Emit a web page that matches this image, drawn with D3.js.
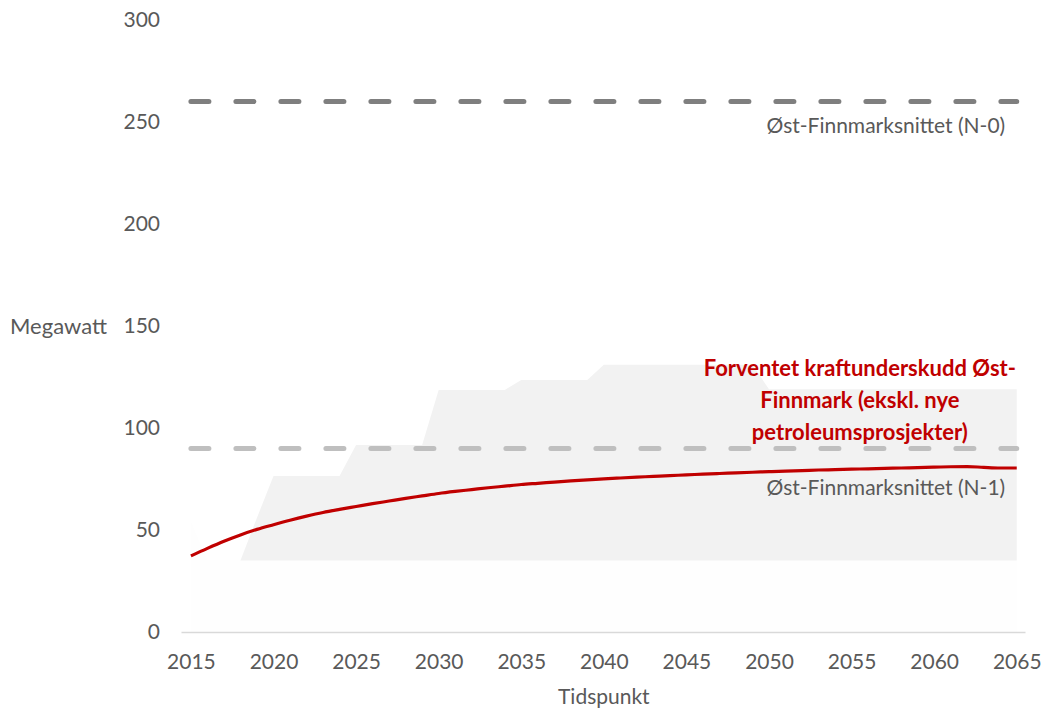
<!DOCTYPE html>
<html>
<head>
<meta charset="utf-8">
<script src="https://cdn.jsdelivr.net/npm/d3@7"></script>
<style>
  html, body { margin: 0; padding: 0; background: #ffffff; }
  svg { display: block; font-family: Lato, "Open Sans", sans-serif; }
</style>
</head>
<body>
<svg id="chart" width="1047" height="714"></svg>
<script>
// ---- data ----
const years = d3.range(2015, 2066);
// expected power deficit (MW), one value per year 2015..2065
const deficit = [37.3, 41.0, 44.5, 47.6, 50.3, 52.6, 54.8, 56.8, 58.6, 60.1,
                 61.5, 62.9, 64.2, 65.5, 66.7, 67.9, 68.9, 69.8, 70.7, 71.5,
                 72.3, 72.9, 73.5, 74.1, 74.6, 75.1, 75.5, 75.9, 76.3, 76.7,
                 77.0, 77.4, 77.7, 78.0, 78.3, 78.6, 78.9, 79.1, 79.4, 79.6,
                 79.8, 80.0, 80.2, 80.4, 80.6, 80.8, 81.0, 81.1, 80.7, 80.4, 80.4];
// uncertainty band: lower bound (invisible base) and upper bound
const bandLow = [54, 35, 35, 35, 35, 35, 35, 35, 35, 35,
                 35, 35, 35, 35, 35, 35, 35, 35, 35, 35,
                 35, 35, 35, 35, 35, 35, 35, 35, 35, 35,
                 35, 35, 35, 35, 35, 35, 35, 35, 35, 35,
                 35, 35, 35, 35, 35, 35, 35, 35, 35, 35, 35];
const bandHigh = [54, 35, 35, 35, 56, 76.5, 76.5, 76.5, 76.5, 76.5,
                  91.7, 91.7, 91.7, 91.7, 91.7, 118.6, 118.6, 118.6, 118.6, 118.6,
                  123.5, 123.5, 123.5, 123.5, 123.5, 131, 131, 131, 131, 131,
                  131, 131, 131, 131, 131, 119, 119, 119, 119, 119,
                  119, 119, 119, 119, 119, 119, 119, 119, 119, 119, 119];
const n0Capacity = 260;
const n1Capacity = 90;
const yTicks = [0, 50, 100, 150, 200, 250, 300];
const xTicks = [2015, 2020, 2025, 2030, 2035, 2040, 2045, 2050, 2055, 2060, 2065];
const labels = {
  n0: "Øst-Finnmarksnittet (N-0)",
  n1: "Øst-Finnmarksnittet (N-1)",
  deficit: ["Forventet kraftunderskudd Øst-", "Finnmark (ekskl. nye", "petroleumsprosjekter)"],
  yTitle: "Megawatt",
  xTitle: "Tidspunkt"
};

// ---- scales ----
const svg = d3.select("#chart");
const x = d3.scaleLinear().domain([2014.4, 2065.5]).range([181, 1025]);
const y = d3.scaleLinear().domain([0, 300]).range([632, 20]);

const textColor = "#595959";
const fontSize = 21;

// base (nearly invisible) area
svg.append("path")
  .datum(years.map((yr, i) => ({ yr, v: bandLow[i] })))
  .attr("fill", "#fefefe")
  .attr("d", d3.area().x(d => x(d.yr)).y0(y(0)).y1(d => y(d.v)));

// uncertainty band
svg.append("path")
  .datum(years.map((yr, i) => ({ yr, lo: bandLow[i], hi: bandHigh[i] })))
  .attr("fill", "#f2f2f2")
  .attr("d", d3.area().x(d => x(d.yr)).y0(d => y(d.lo)).y1(d => y(d.hi)));

// x axis
const xAxis = d3.axisBottom(x).tickValues(xTicks).tickSize(0).tickPadding(22).tickFormat(d3.format("d"));
const gx = svg.append("g").attr("transform", `translate(0,${y(0)})`).call(xAxis);
gx.select(".domain").attr("stroke", "#d9d9d9").attr("stroke-width", 1.3);
gx.selectAll("text").attr("fill", textColor).style("font-size", fontSize + "px").style("font-family", "Lato");

// y axis (labels only)
const yAxis = d3.axisLeft(y).tickValues(yTicks).tickSize(0).tickPadding(0);
const gy = svg.append("g").attr("transform", `translate(${x(2014.4) - 21},0)`).call(yAxis);
gy.select(".domain").remove();
gy.selectAll("text").attr("fill", textColor).style("font-size", fontSize + "px").style("font-family", "Lato");

// capacity lines
const flat = v => years.map(yr => ({ yr, v }));
const lineGen = d3.line().x(d => x(d.yr)).y(d => y(d.v));
svg.append("path").datum(flat(n1Capacity))
  .attr("fill", "none").attr("stroke", "#bfbfbf").attr("stroke-width", 5)
  .attr("stroke-linecap", "round").attr("stroke-dasharray", "18,27")
  .attr("d", lineGen);
svg.append("path").datum(flat(n0Capacity))
  .attr("fill", "none").attr("stroke", "#7f7f7f").attr("stroke-width", 5)
  .attr("stroke-linecap", "round").attr("stroke-dasharray", "18,27")
  .attr("d", lineGen);

// deficit line
svg.append("path")
  .datum(years.map((yr, i) => ({ yr, v: deficit[i] })))
  .attr("fill", "none").attr("stroke", "#c00000").attr("stroke-width", 3.2)
  .attr("stroke-linejoin", "round")
  .attr("d", d3.line().x(d => x(d.yr)).y(d => y(d.v)).curve(d3.curveMonotoneX));

// labels
svg.append("text").attr("x", x(2064.3)).attr("y", y(n0Capacity) + 31)
  .attr("text-anchor", "end").attr("fill", textColor)
  .style("font-size", fontSize + "px").text(labels.n0);
svg.append("text").attr("x", x(2064.3)).attr("y", y(n1Capacity) + 47)
  .attr("text-anchor", "end").attr("fill", textColor)
  .style("font-size", fontSize + "px").text(labels.n1);

const dl = svg.append("text").attr("text-anchor", "middle").attr("fill", "#c00000")
  .style("font-size", "22px").style("font-weight", "bold");
labels.deficit.forEach((t, i) => {
  dl.append("tspan").attr("x", x(2055.5)).attr("y", 376 + i * 32).text(t);
});

svg.append("text").attr("x", 10).attr("y", y(150) + 8)
  .attr("fill", textColor).style("font-size", "22px").text(labels.yTitle);
svg.append("text").attr("x", x(2040)).attr("y", 704)
  .attr("text-anchor", "middle").attr("fill", textColor)
  .style("font-size", fontSize + "px").text(labels.xTitle);
</script>
</body>
</html>
